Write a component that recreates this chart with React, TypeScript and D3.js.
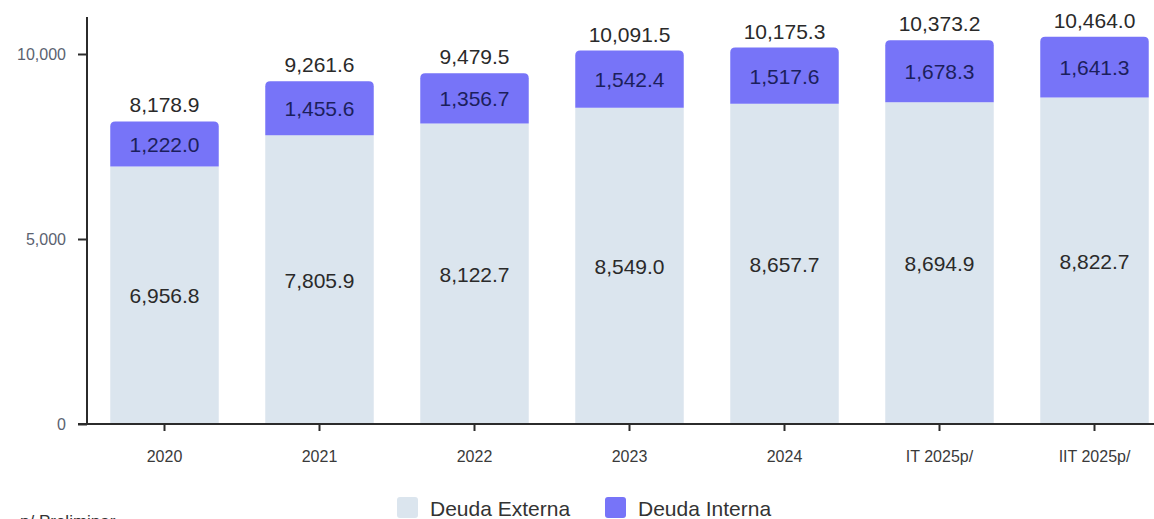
import { useEffect, useRef } from "react";
import * as d3 from "d3";

const categories = ["2020", "2021", "2022", "2023", "2024", "IT 2025p/", "IIT 2025p/"];
const externa = [6956.8, 7805.9, 8122.7, 8549.0, 8657.7, 8694.9, 8822.7];
const interna = [1222.0, 1455.6, 1356.7, 1542.4, 1517.6, 1678.3, 1641.3];
const totals = [8178.9, 9261.6, 9479.5, 10091.5, 10175.3, 10373.2, 10464.0];
const yTicks = [0, 5000, 10000];

const W = 1154;
const H = 519;
const FONT = "'Liberation Sans', Arial, sans-serif";
const C_EXT = "#dbe5ee";
const C_INT = "#7774f8";

export default function App() {
  const ref = useRef<SVGSVGElement>(null);

  useEffect(() => {
    const svg = d3.select(ref.current);
    svg.selectAll("*").remove();

    const x = d3.scaleBand<string>()
      .domain(categories)
      .range([87, 1172])
      .paddingInner(0.3)
      .paddingOuter(0.15);

    const y = d3.scaleLinear().domain([0, 11000]).range([424, 17]);
    const fmt = d3.format(",.1f");
    const bw = x.bandwidth();
    const fs = 21;

    // Bars
    const g = svg.append("g");
    categories.forEach((c, i) => {
      const x0 = x(c)!;
      const e = externa[i];
      const t = e + interna[i];
      g.append("rect")
        .attr("x", x0).attr("y", y(e))
        .attr("width", bw).attr("height", y(0) - y(e))
        .attr("fill", C_EXT);
      // purple segment with rounded top corners
      const top = y(t), bot = y(e), r = 5;
      g.append("path")
        .attr("d", `M${x0},${bot}V${top + r}Q${x0},${top} ${x0 + r},${top}H${x0 + bw - r}Q${x0 + bw},${top} ${x0 + bw},${top + r}V${bot}Z`)
        .attr("fill", C_INT);

      const cx = x0 + bw / 2;
      g.append("text")
        .attr("x", cx).attr("y", (y(0) + y(e)) / 2 + 8)
        .attr("text-anchor", "middle").attr("font-size", fs)
        .attr("fill", "#2a2a2a").text(fmt(e));
      g.append("text")
        .attr("x", cx).attr("y", (top + bot) / 2 + 8)
        .attr("text-anchor", "middle").attr("font-size", fs)
        .attr("fill", "#1c1f5c").text(fmt(interna[i]));
      g.append("text")
        .attr("x", cx).attr("y", top - 9)
        .attr("text-anchor", "middle").attr("font-size", fs)
        .attr("fill", "#2a2a2a").text(fmt(totals[i]));
    });

    // Y axis
    const yAxis = svg.append("g")
      .attr("transform", "translate(87,0)")
      .call(d3.axisLeft(y).tickValues(yTicks).tickSize(9).tickPadding(12).tickFormat(d3.format(",")));
    yAxis.select(".domain").attr("d", `M0,${y(11000)}V${y(0)}`).attr("stroke", "#2b2b2b").attr("stroke-width", 2);
    yAxis.selectAll(".tick line").attr("stroke", "#2b2b2b").attr("stroke-width", 2);
    yAxis.selectAll(".tick text").attr("font-size", 16).attr("font-family", FONT).attr("fill", "#5b6270");

    // X axis
    const xAxis = svg.append("g")
      .attr("transform", `translate(0,${y(0)})`)
      .call(d3.axisBottom(x).tickSize(7).tickPadding(20));
    xAxis.select(".domain").attr("d", `M78,0H${W}`).attr("stroke", "#2b2b2b").attr("stroke-width", 2);
    xAxis.selectAll(".tick line").attr("stroke", "#2b2b2b").attr("stroke-width", 2);
    xAxis.selectAll(".tick text").attr("font-size", 16).attr("font-family", FONT).attr("fill", "#3a3a3a");

    // Legend
    const legend = [
      { label: "Deuda Externa", color: C_EXT, x: 397 },
      { label: "Deuda Interna", color: C_INT, x: 605 },
    ];
    legend.forEach(l => {
      svg.append("rect")
        .attr("x", l.x).attr("y", 497).attr("width", 21).attr("height", 21)
        .attr("rx", 3).attr("fill", l.color);
      svg.append("text")
        .attr("x", l.x + 33).attr("y", 516)
        .attr("font-size", 21).attr("fill", "#333").text(l.label);
    });

    // footnote (cut by the bottom edge, as in the source)
    svg.append("text")
      .attr("x", 20).attr("y", 527)
      .attr("font-size", 17).attr("fill", "#333").text("p/ Preliminar");
  }, []);

  return (
    <svg
      ref={ref}
      width={W}
      height={H}
      style={{ position: "absolute", left: 0, top: 0, fontFamily: FONT, background: "#fff" }}
    />
  );
}
